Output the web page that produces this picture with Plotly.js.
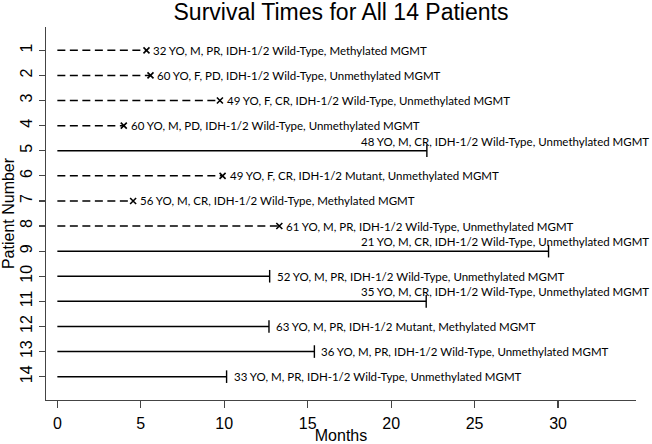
<!DOCTYPE html>
<html>
<head>
<meta charset="utf-8">
<script src="https://cdn.plot.ly/plotly-3.0.1.min.js"></script>
<style>html,body{margin:0;padding:0;background:#fff;}#chart{width:652px;height:444px;}</style>
</head>
<body>
<div id="chart"></div>
<script>
const patients = [1,2,3,4,5,6,7,8,9,10,11,12,13,14];
const months = [5.34,5.58,9.74,3.98,22.14,9.9,4.54,13.3,29.43,12.72,22.1,12.68,15.4,10.14];
const died = [1,1,1,1,0,1,1,1,0,0,0,0,0,0];
const labels = [
  "32 YO, M, PR, IDH-1/2 Wild-Type, Methylated MGMT",
  "60 YO, F, PD, IDH-1/2 Wild-Type, Unmethylated MGMT",
  "49 YO, F, CR, IDH-1/2 Wild-Type, Unmethylated MGMT",
  "60 YO, M, PD, IDH-1/2 Wild-Type, Unmethylated MGMT",
  "48 YO, M, CR, IDH-1/2 Wild-Type, Unmethylated MGMT",
  "49 YO, F, CR, IDH-1/2 Mutant, Unmethylated MGMT",
  "56 YO, M, CR, IDH-1/2 Wild-Type, Methylated MGMT",
  "61 YO, M, PR, IDH-1/2 Wild-Type, Unmethylated MGMT",
  "21 YO, M, CR, IDH-1/2 Wild-Type, Unmethylated MGMT",
  "52 YO, M, PR, IDH-1/2 Wild-Type, Unmethylated MGMT",
  "35 YO, M, CR, IDH-1/2 Wild-Type, Unmethylated MGMT",
  "63 YO, M, PR, IDH-1/2 Mutant, Methylated MGMT",
  "36 YO, M, PR, IDH-1/2 Wild-Type, Unmethylated MGMT",
  "33 YO, M, PR, IDH-1/2 Wild-Type, Unmethylated MGMT"
];
const xTicks = [0,5,10,15,20,25,30];

const traces = [];
patients.forEach((p, i) => {
  traces.push({
    type: 'scatter', mode: 'lines',
    x: [0, months[i]], y: [p, p],
    line: {color: '#000', width: 1.5, dash: died[i] ? '8px,4.5px' : 'solid'},
    hoverinfo: 'skip', showlegend: false
  });
});
const evX = [], evY = [], cX = [], cY = [];
patients.forEach((p, i) => {
  if (died[i]) { evX.push(months[i]); evY.push(p); } else { cX.push(months[i]); cY.push(p); }
});
traces.push({type:'scatter', mode:'markers', x: evX, y: evY, showlegend:false, cliponaxis:false,
  marker:{symbol:'x-thin-open', size:6, color:'#000', line:{color:'#000', width:1.6}}});
traces.push({type:'scatter', mode:'markers', x: cX, y: cY, showlegend:false, cliponaxis:false,
  marker:{symbol:'line-ns-open', size:9, color:'#000', line:{color:'#000', width:1.4}}});

const RAISED_X = 18.05;
const annotations = patients.map((p, i) => {
  const raised = months[i] > 20;
  return {
    x: raised ? RAISED_X : months[i], y: p, xref: 'x', yref: 'y',
    text: labels[i], showarrow: false, xanchor: 'left', yanchor: 'middle',
    xshift: raised ? 0 : 5, yshift: raised ? 9.5 : 0,
    font: {family: 'Lato, sans-serif', size: 11.5, color: '#000'}
  };
});

const layout = {
  width: 652, height: 444,
  margin: {l: 46, r: 16, t: 27, b: 44},
  paper_bgcolor: '#fff', plot_bgcolor: '#fff',
  font: {family: '"Liberation Sans", Arial, sans-serif', color: '#000'},
  title: {text: 'Survival Times for All 14 Patients', x: 0.5, xref: 'paper', y: 1 - 12/444, yref: 'container', yanchor: 'middle',
    font: {size: 23, family: '"Liberation Sans", Arial, sans-serif', color: '#000'}},
  xaxis: {
    range: [-0.68, 34.67], tickvals: xTicks, ticktext: xTicks.map(String),
    showgrid: false, zeroline: false, showline: true, linecolor: '#444', linewidth: 1.2,
    ticks: 'outside', ticklen: 7, tickcolor: '#444', tickwidth: 1.2, ticklabelstandoff: 2,
    tickfont: {size: 16}, title: {text: 'Months', font: {size: 16}, standoff: 0}
  },
  yaxis: {
    range: [14.93, 0.07], tickvals: patients, ticktext: patients.map(String), tickangle: -90,
    showgrid: false, zeroline: false, showline: true, linecolor: '#444', linewidth: 1.2,
    ticks: 'outside', ticklen: 6, tickcolor: '#444', tickwidth: 1.2,
    tickfont: {size: 16}, title: {text: 'Patient Number', font: {size: 16}, standoff: 2}
  },
  annotations: annotations,
  showlegend: false
};
Plotly.newPlot('chart', traces, layout, {displayModeBar: false, staticPlot: true});
</script>
</body>
</html>
